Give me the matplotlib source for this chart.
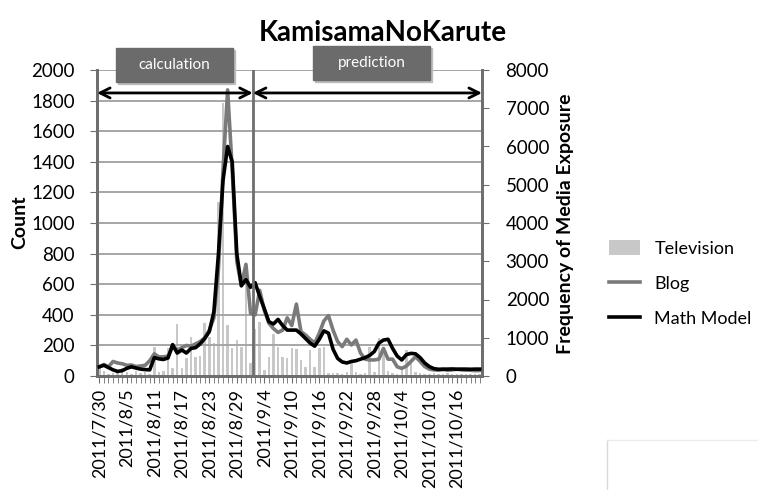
import numpy as np
import pandas as pd
import matplotlib.pyplot as plt
from matplotlib.patches import Rectangle
from matplotlib.lines import Line2D

plt.rcParams['font.family'] = ['Lato', 'DejaVu Sans']

# daily categories 2011/7/30 .. 2011/10/21
dates = pd.date_range('2011-07-30', '2011-10-21')
tick_labels = ['2011/7/30', '2011/8/5', '2011/8/11', '2011/8/17', '2011/8/23',
               '2011/8/29', '2011/9/4', '2011/9/10', '2011/9/16', '2011/9/22',
               '2011/9/28', '2011/10/4', '2011/10/10', '2011/10/16']

# Television (right axis, frequency of media exposure)
television = [240, 120, 60, 80, 120, 200, 100, 60, 140, 80, 100, 60,
              770, 100, 120, 730, 210, 1370, 200, 470, 1030, 500, 510, 1380,
              1030, 860, 4560, 7130, 1330, 720, 940, 770, 2950, 330, 1240, 1420,
              160, 500, 1100, 770, 500, 460, 720, 700, 420, 240, 680, 230,
              720, 770, 70, 80, 80, 60, 100, 420, 100, 60, 80, 770,
              100, 990, 760, 120, 80, 60, 240, 680, 400, 100, 80, 60,
              60, 80, 60, 60, 80, 60, 60, 60, 60, 60, 60, 60]

# Blog counts (left axis)
blog = [60, 75, 60, 95, 85, 80, 70, 72, 62, 65, 70, 100,
        145, 125, 125, 130, 190, 170, 185, 200, 195, 210, 225, 250,
        300, 380, 700, 1350, 1870, 1350, 750, 590, 730, 410, 400, 560,
        430, 345, 310, 285, 300, 380, 330, 470, 290, 268, 240, 215,
        280, 360, 395, 300, 225, 192, 240, 203, 235, 150, 110, 105,
        105, 110, 180, 110, 110, 60, 50, 65, 95, 126, 95, 62,
        45, 40, 38, 42, 38, 40, 45, 40, 38, 38, 35, 36]

# Math model (left axis)
math_model = [60, 70, 55, 40, 30, 35, 50, 60, 52, 45, 42, 40,
              120, 112, 108, 118, 205, 150, 170, 150, 180, 185, 210, 245,
              290, 420, 800, 1280, 1500, 1400, 800, 590, 630, 580, 610, 520,
              440, 355, 340, 370, 330, 300, 300, 300, 275, 245, 215, 195,
              240, 295, 280, 175, 115, 92, 85, 95, 100, 110, 120, 135,
              160, 215, 235, 240, 180, 130, 105, 140, 148, 145, 120, 85,
              62, 48, 44, 45, 45, 46, 44, 45, 45, 44, 45, 45]

x = np.arange(len(dates))
split = 33.5  # between 8/31 and 9/1

fig = plt.figure(figsize=(7.58, 4.90), dpi=100)
W, H = 758, 490
ax = fig.add_axes([97 / W, 1 - 376 / H, 385 / W, 306 / H])
ax2 = ax.twinx()
ax.set_zorder(ax2.get_zorder() + 1)
ax.patch.set_visible(False)

spine_c = '#6e6e6e'
grid_c = '#a6a6a6'

ax2.bar(x, television, width=0.55, color='#c8c8c8', label='Television')
ax.plot(x, blog, color='#7a7a7a', lw=2.6, label='Blog', zorder=3)
ax.plot(x, math_model, color='black', lw=2.6, label='Math Model', zorder=4)

ax.set_xlim(-0.5, len(x) - 0.5)
ax.set_ylim(0, 2000)
ax2.set_ylim(0, 8000)
ax.set_yticks(range(0, 2001, 200))
ax2.set_yticks(range(0, 8001, 1000))
for v in range(200, 2001, 200):
    ax.axhline(v, color=grid_c, lw=1.4, zorder=0)

tick_pos = [dates.get_loc(pd.Timestamp(s.replace('/', '-'))) for s in tick_labels]
ax.set_xticks(tick_pos)
ax.set_xticklabels(tick_labels, rotation=90, fontsize=13)
ax.set_xticks(x, minor=True)
ax.tick_params(axis='x', which='both', length=5, color=spine_c, pad=4)
ax.tick_params(axis='y', length=5, color=spine_c, labelsize=13.5, pad=11)
ax2.tick_params(axis='y', length=5, color=spine_c, labelsize=13.5, pad=12)

for a in (ax, ax2):
    a.spines['top'].set_visible(False)
    for s in ('left', 'right', 'bottom'):
        a.spines[s].set_color(spine_c)
        a.spines[s].set_linewidth(2)

ax.axvline(split, color=spine_c, lw=2, zorder=5)

fig.text(20 / W, 1 - 222 / H, 'Count', rotation=90, ha='center', va='center',
         fontsize=14, fontweight='bold')
fig.text(565 / W, 1 - 224 / H, 'Frequency of Media Exposure', rotation=90,
         ha='center', va='center', fontsize=14, fontweight='bold')
fig.text(383 / W, 1 - 33 / H, 'KamisamaNoKarute', ha='center', va='center',
         fontsize=20, fontweight='bold')

# phase arrows
arr = dict(arrowstyle='<->', color='black', lw=2, mutation_scale=18,
           shrinkA=0, shrinkB=0)
ax.annotate('', xy=(-0.5, 1850), xytext=(split, 1850), arrowprops=arr,
            annotation_clip=False, zorder=6)
ax.annotate('', xy=(split, 1850), xytext=(len(x) - 0.5, 1850), arrowprops=arr,
            annotation_clip=False, zorder=6)

# phase boxes
for (x0, x1, y0, y1, txt) in [(116, 233, 48, 82, 'calculation'),
                              (313, 430, 46, 80, 'prediction')]:
    fig.patches.append(Rectangle((x0 / W + 0.003, 1 - y1 / H - 0.005), (x1 - x0) / W,
                                 (y1 - y0) / H, transform=fig.transFigure,
                                 color='#bdbdbd', zorder=9))
    fig.patches.append(Rectangle((x0 / W, 1 - y1 / H), (x1 - x0) / W, (y1 - y0) / H,
                                 transform=fig.transFigure, color='#6b6b6b', zorder=10))
    fig.text((x0 + x1) / 2 / W, 1 - (y0 + y1) / 2 / H, txt, ha='center', va='center',
             color='white', fontsize=11, zorder=11)

h1, l1 = ax2.get_legend_handles_labels()
h2, l2 = ax.get_legend_handles_labels()
fig.legend(h1 + h2, l1 + l2, loc='upper left', bbox_to_anchor=(593 / W, 1 - 224 / H),
           frameon=False, fontsize=13, handlelength=1.7, handleheight=0.9,
           labelspacing=1.0, handletextpad=0.8)

# faint border fragment at lower right
fig.add_artist(Line2D([607 / W, 607 / W], [0, 1 - 440 / H], color='#d9d9d9', lw=1,
                      transform=fig.transFigure))
fig.add_artist(Line2D([607 / W, 1], [1 - 440 / H, 1 - 440 / H], color='#ececec', lw=1,
                      transform=fig.transFigure))

fig.savefig('out.png', dpi=100)
